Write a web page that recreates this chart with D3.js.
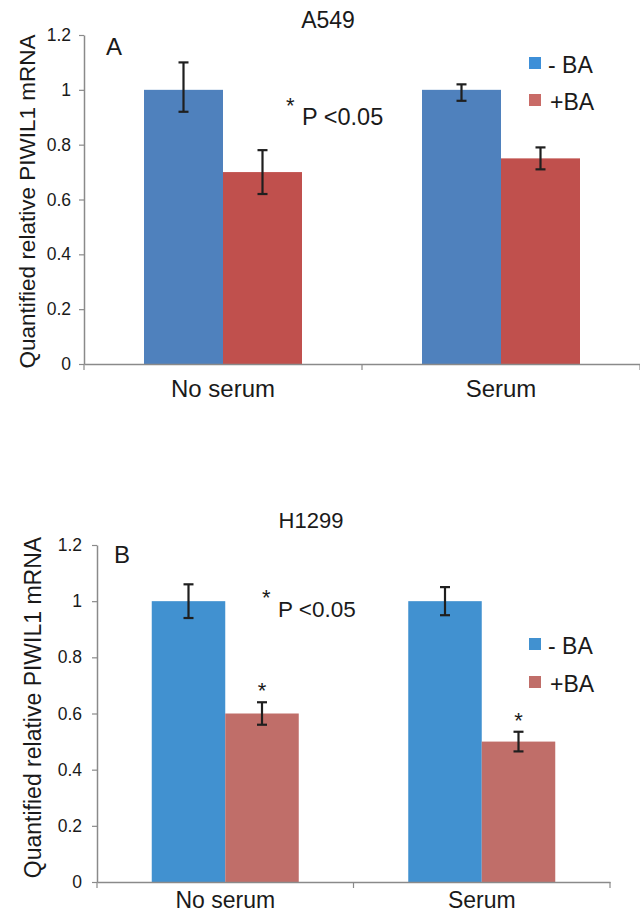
<!DOCTYPE html>
<html>
<head>
<meta charset="utf-8">
<script src="https://cdn.jsdelivr.net/npm/d3@7"></script>
<style>
  html, body { margin: 0; padding: 0; background: #fff; }
  svg { display: block; }
  text { font-family: "Liberation Sans", Arial, sans-serif; fill: #1a1a1a; }
</style>
</head>
<body>
<svg id="chart" width="640" height="916"></svg>
<script>
// ---- data ----
const categories = ["No serum", "Serum"];
const seriesNames = ["- BA", "+BA"];
const yTicks = [0, 0.2, 0.4, 0.6, 0.8, 1.0, 1.2];
const yLabel = "Quantified relative PIWIL1 mRNA";
const sigNote = "P <0.05";

// Panel A: A549
const a549Minus   = [1.00, 1.00];
const a549MinusHi = [1.10, 1.02];
const a549MinusLo = [0.92, 0.96];
const a549Plus    = [0.70, 0.75];
const a549PlusHi  = [0.78, 0.79];
const a549PlusLo  = [0.62, 0.71];
const a549Sig     = [false, false];

// Panel B: H1299
const h1299Minus   = [1.00, 1.00];
const h1299MinusHi = [1.06, 1.05];
const h1299MinusLo = [0.94, 0.95];
const h1299Plus    = [0.60, 0.50];
const h1299PlusHi  = [0.64, 0.535];
const h1299PlusLo  = [0.56, 0.465];
const h1299Sig     = [true, true];

const svg = d3.select("#chart");

function panel(cfg) {
  const g = svg.append("g");
  const x = d3.scaleBand().domain(categories).range([cfg.left, cfg.right]).paddingInner(0).paddingOuter(0);
  const bw = x.bandwidth();
  const xs = d3.scaleBand().domain(seriesNames)
    .range([(bw - 2 * cfg.barW) / 2, (bw + 2 * cfg.barW) / 2]);
  const y = d3.scaleLinear().domain([0, 1.2]).range([cfg.bottom, cfg.top]);
  const color = d3.scaleOrdinal().domain(seriesNames).range(cfg.barColors);
  const legColor = d3.scaleOrdinal().domain(seriesNames).range(cfg.legColors);

  const rows = [];
  categories.forEach((c, i) => {
    rows.push({cat: c, s: seriesNames[0], v: cfg.minus[i], hi: cfg.minusHi[i], lo: cfg.minusLo[i], sig: false});
    rows.push({cat: c, s: seriesNames[1], v: cfg.plus[i], hi: cfg.plusHi[i], lo: cfg.plusLo[i], sig: cfg.sig[i]});
  });

  // bars
  g.selectAll("rect.bar").data(rows).join("rect")
    .attr("class", "bar")
    .attr("x", d => x(d.cat) + xs(d.s))
    .attr("width", xs.bandwidth())
    .attr("y", d => y(d.v))
    .attr("height", d => y(0) - y(d.v))
    .attr("fill", d => color(d.s));

  // y axis
  const yAxis = d3.axisLeft(y).tickValues(yTicks).tickFormat(d3.format("~g"))
    .tickSize(5).tickSizeOuter(0).tickPadding(cfg.tickPad);
  const ya = g.append("g").attr("transform", `translate(${cfg.left},0)`).call(yAxis);
  ya.select(".domain").attr("stroke", "#8a8a8a").attr("stroke-width", 1.5);
  ya.selectAll(".tick line").attr("stroke", "#8a8a8a").attr("stroke-width", 1.2);
  ya.selectAll(".tick text").attr("font-size", 17.5).attr("fill", "#1a1a1a")
    .attr("font-family", '"Liberation Sans", Arial, sans-serif');

  // x axis
  const xAxis = d3.axisBottom(x).tickSize(0).tickSizeOuter(0).tickPadding(cfg.catPad);
  const xa = g.append("g").attr("transform", `translate(0,${cfg.bottom})`).call(xAxis);
  xa.select(".domain").attr("stroke", "#8a8a8a").attr("stroke-width", 1.5);
  xa.selectAll(".tick text").attr("font-size", cfg.catSize).attr("fill", "#1a1a1a")
    .attr("font-family", '"Liberation Sans", Arial, sans-serif');
  const bounds = [x.range()[0]].concat(categories.map(c => x(c) + bw));
  xa.selectAll("line.bound").data(bounds).join("line")
    .attr("class", "bound")
    .attr("x1", d => d).attr("x2", d => d)
    .attr("y1", 0).attr("y2", 6)
    .attr("stroke", "#8a8a8a").attr("stroke-width", 1.2);

  // error bars
  const cap = 5;
  const eb = g.selectAll("g.err").data(rows).join("g").attr("class", "err");
  const cx = d => x(d.cat) + xs(d.s) + xs.bandwidth() / 2;
  eb.append("line").attr("x1", cx).attr("x2", cx)
    .attr("y1", d => y(d.hi)).attr("y2", d => y(d.lo));
  eb.append("line").attr("x1", d => cx(d) - cap).attr("x2", d => cx(d) + cap)
    .attr("y1", d => y(d.hi)).attr("y2", d => y(d.hi));
  eb.append("line").attr("x1", d => cx(d) - cap).attr("x2", d => cx(d) + cap)
    .attr("y1", d => y(d.lo)).attr("y2", d => y(d.lo));
  eb.selectAll("line").attr("stroke", "#1f1f1f").attr("stroke-width", 2.2);

  // significance asterisks
  g.selectAll("text.sig").data(rows.filter(d => d.sig)).join("text")
    .attr("class", "sig")
    .attr("x", cx).attr("y", d => y(d.hi) - 4)
    .attr("text-anchor", "middle").attr("font-size", 22)
    .text("*");

  // y label
  g.append("text")
    .attr("transform", `translate(${cfg.ylabX},${(cfg.top + cfg.bottom) / 2 + cfg.ylabDy}) rotate(-90)`)
    .attr("text-anchor", "middle").attr("font-size", cfg.ylabSize)
    .text(yLabel);

  // title
  g.append("text").attr("x", cfg.titleX).attr("y", cfg.titleY)
    .attr("text-anchor", "middle").attr("font-size", cfg.titleSize).text(cfg.title);

  // panel letter
  g.append("text").attr("x", cfg.letterX).attr("y", cfg.letterY)
    .attr("font-size", cfg.letterSize).text(cfg.letter);

  // p-value note
  g.append("text").attr("x", cfg.pX - 16).attr("y", cfg.pY - 12)
    .attr("font-size", 22).text("*");
  g.append("text").attr("x", cfg.pX).attr("y", cfg.pY)
    .attr("font-size", cfg.pSize).text(sigNote);

  // legend
  const lg = g.selectAll("g.leg").data(seriesNames).join("g").attr("class", "leg")
    .attr("transform", (d, i) => `translate(${cfg.legX},${cfg.legY + i * cfg.legStep})`);
  lg.append("rect").attr("x", 0).attr("y", 0).attr("width", 12).attr("height", 12)
    .attr("fill", d => legColor(d));
  lg.append("text").attr("x", d => d === "- BA" ? 19 : 21).attr("y", 16)
    .attr("font-size", cfg.legSize).text(d => d);
}

panel({
  left: 84, right: 640, top: 35, bottom: 364, barW: 79, tickPad: 8, catPad: 16, catSize: 24,
  minus: a549Minus, minusHi: a549MinusHi, minusLo: a549MinusLo,
  plus: a549Plus, plusHi: a549PlusHi, plusLo: a549PlusLo, sig: a549Sig,
  barColors: ["#4f81bd", "#c0504d"], legColors: ["#3d8fd8", "#c96b67"],
  ylabX: 35, ylabDy: 2, ylabSize: 22.5,
  title: "A549", titleX: 328, titleY: 28, titleSize: 23,
  letter: "A", letterX: 106, letterY: 55, letterSize: 24,
  pX: 302, pY: 125, pSize: 23.5,
  legX: 529, legY: 57, legStep: 37, legSize: 23
});

panel({
  left: 97, right: 610, top: 545, bottom: 882, barW: 73.5, tickPad: 10, catPad: 10, catSize: 23,
  minus: h1299Minus, minusHi: h1299MinusHi, minusLo: h1299MinusLo,
  plus: h1299Plus, plusHi: h1299PlusHi, plusLo: h1299PlusLo, sig: h1299Sig,
  barColors: ["#4191d0", "#c06e69"], legColors: ["#4191d0", "#c06e69"],
  ylabX: 41, ylabDy: -6, ylabSize: 23,
  title: "H1299", titleX: 311, titleY: 528, titleSize: 22,
  letter: "B", letterX: 114, letterY: 563, letterSize: 24,
  pX: 278, pY: 617, pSize: 22.5,
  legX: 529, legY: 638, legStep: 38, legSize: 23
});
</script>
</body>
</html>
